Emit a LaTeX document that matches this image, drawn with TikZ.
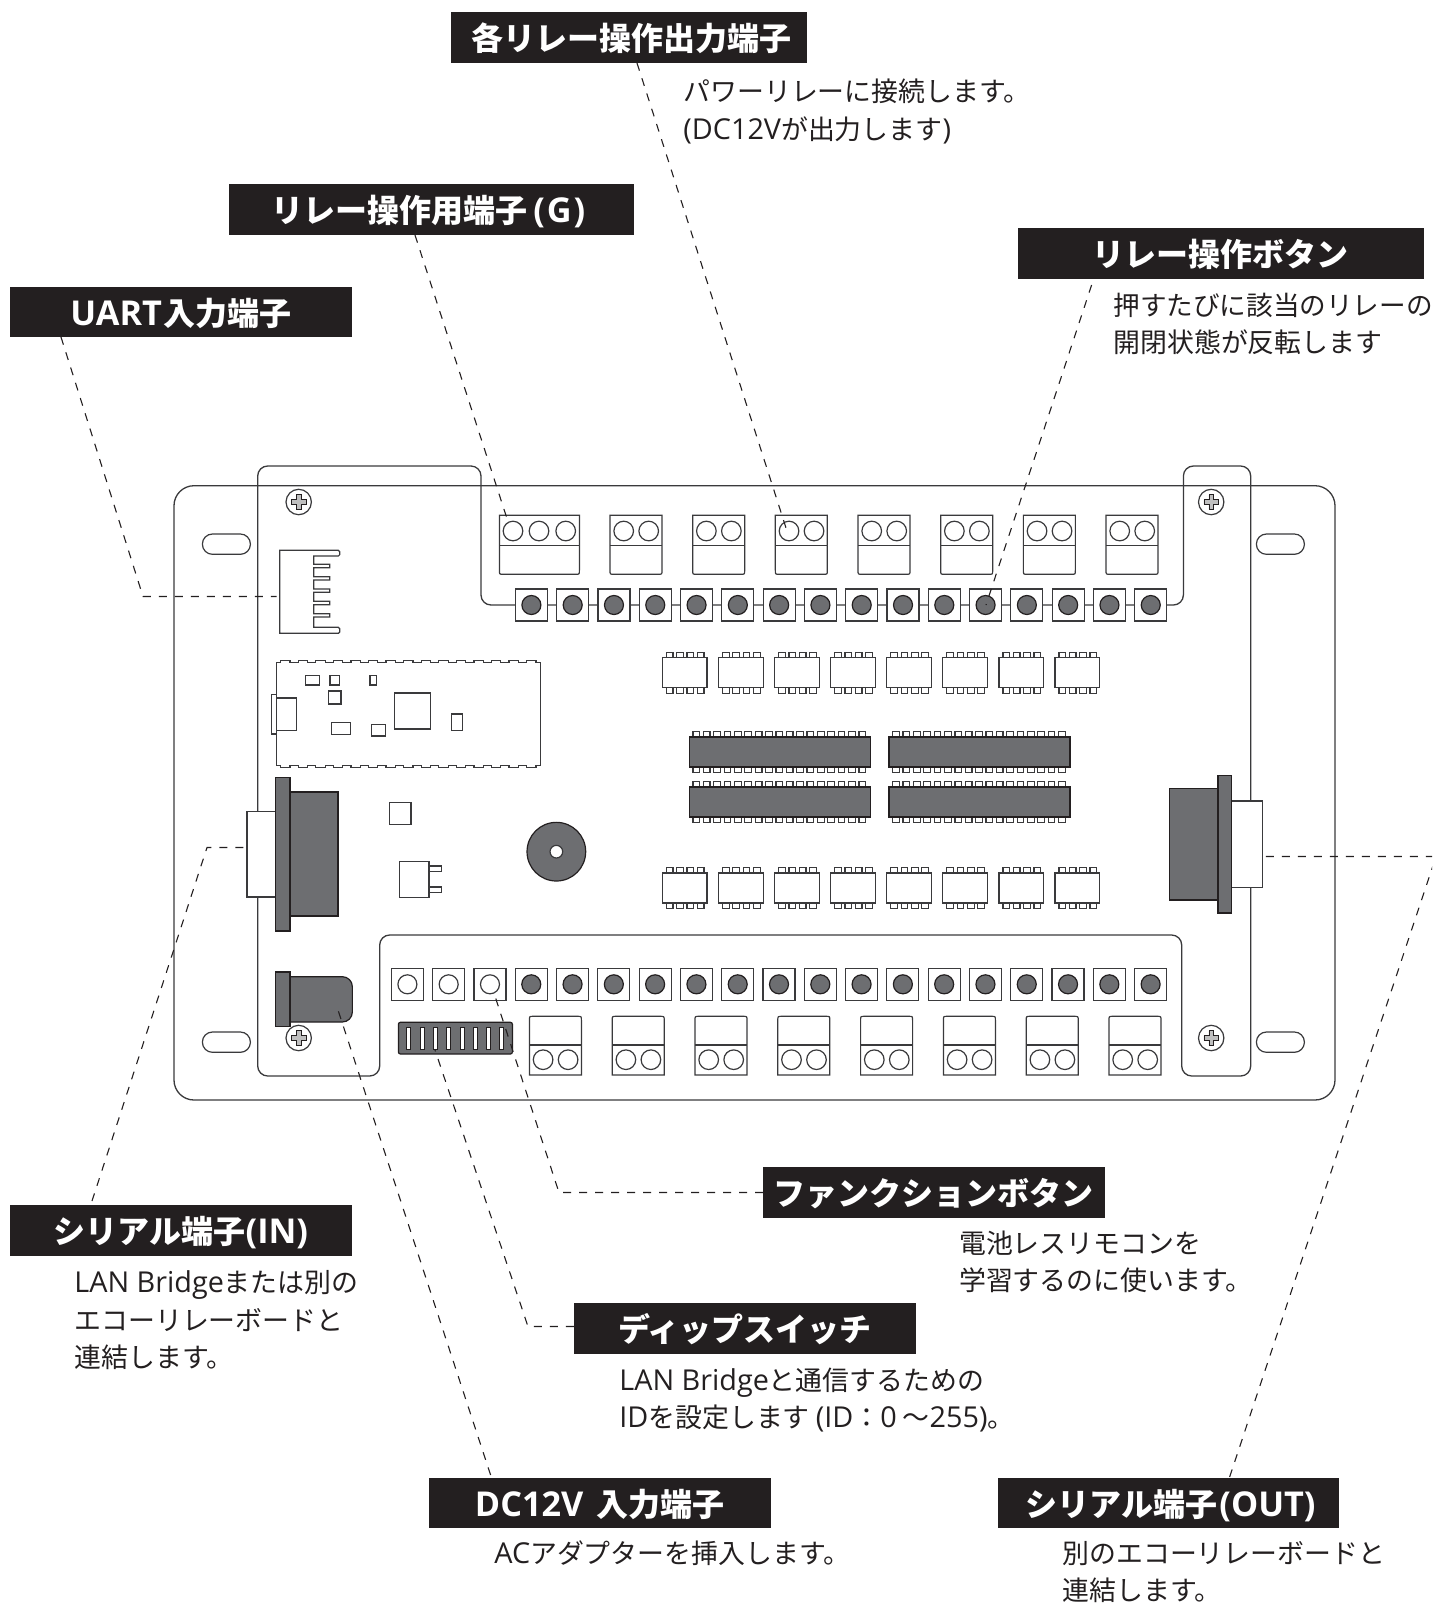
\documentclass[tikz,border=0pt]{standalone}
\usepackage{fontspec}
\setmainfont{Noto Sans CJK JP}
\newfontfamily\lat[Scale=1.07]{Open Sans}
\definecolor{ink}{HTML}{231F20}
\definecolor{wire}{HTML}{3A3A3C}
\definecolor{dk}{HTML}{6D6E71}
\tikzset{
  part/.style={draw=wire,line width=0.6pt,fill=white},
  dpart/.style={draw=ink,line width=0.6pt,fill=dk},
  outline/.style={draw=wire,line width=0.65pt},
  leader/.style={draw=ink,line width=0.55pt,dash pattern=on 4pt off 4pt},
  lab/.style={fill=ink,text=white,inner sep=0pt,font=\bfseries\fontsize{16}{16}\selectfont,text height=14.5pt,text depth=1.5pt,align=center},
  body/.style={anchor=base west,inner sep=0pt,text=ink,font=\fontsize{13.45}{13.45}\selectfont}
}
\newcommand\lab[6]{\pgfmathsetmacro\lw{(#4-#2)/2}\pgfmathsetmacro\lh{(#5-#3)/2}\node[lab,minimum width=\lw pt,minimum height=\lh pt] (#1) at ({(#2+#4)/2},{(#3+#5)/2}) {#6};}
\newcommand\screw[2]{\draw[part] (#1,#2) circle[radius=12.7];
  \draw[draw=ink,line width=0.4pt,fill=black!25] (#1-2.3,#2-7.3) -- (#1+2.3,#2-7.3) -- (#1+2.3,#2-2.3) -- (#1+7.3,#2-2.3) -- (#1+7.3,#2+2.3) -- (#1+2.3,#2+2.3) -- (#1+2.3,#2+7.3) -- (#1-2.3,#2+7.3) -- (#1-2.3,#2+2.3) -- (#1-7.3,#2+2.3) -- (#1-7.3,#2-2.3) -- (#1-2.3,#2-2.3) -- cycle;}
\begin{document}
\begin{tikzpicture}[x=0.5pt,y=-0.5pt]
\useasboundingbox (0,0) rectangle (1432,1603);
\clip (0,0) rectangle (1432,1603);
% board outline
\draw[outline,rounded corners=10pt] (700,485.7) -- (1335,485.7) -- (1335,1100) -- (174,1100) -- (174,485.7) -- cycle;
\begin{scope}[shift={(0.7,0)}]
% PCB outline
\draw[outline,rounded corners=5pt] (350,466) -- (480.3,466) -- (480.3,605) -- (1182.7,605) -- (1182.7,466) -- (1250,466) -- (1250,1076) -- (1181,1076) -- (1181,935) -- (379,935) -- (379,1076) -- (257,1076) -- (257,466) -- cycle;
% slots
\foreach \sx/\sy in {201.7/534,201.7/1032,1255.7/534,1255.7/1032}
  \draw[part,rounded corners=5pt] (\sx,\sy) rectangle ++(48,20.3);
% top terminals
\draw[part] (498.7,515.3) -- (578.7,515.3) -- (578.7,570.3) .. controls (578.7,574.3) .. (574.7,574.3) -- (502.7,574.3) .. controls (498.7,574.3) .. (498.7,570.3) -- cycle;
\draw[part] (498.7,545.3) -- (578.7,545.3);
\foreach \hx in {512.3,538.3,565} \draw[part] (\hx,531) circle[radius=9.8];
\foreach \i in {0,...,6} {
  \pgfmathsetmacro\tx{609.3+82.67*\i}
  \draw[part] (\tx,515.3) -- (\tx+52,515.3) -- (\tx+52,570.3) .. controls (\tx+52,574.3) .. (\tx+48,574.3) -- (\tx+4,574.3) .. controls (\tx,574.3) .. (\tx,570.3) -- cycle;
  \draw[part] (\tx,545.3) -- (\tx+52,545.3);
  \draw[part] (\tx+13.7,531) circle[radius=9.8];
  \draw[part] (\tx+38.7,531) circle[radius=9.8];
}
% top buttons
\foreach \i in {0,...,15} {
  \pgfmathsetmacro\bx{530.7+41.29*\i}
  \draw[part] (\bx-16,589) rectangle (\bx+16,621);
  \draw[dpart] (\bx,605) circle[radius=9.5];
}
% bottom buttons
\foreach \i in {0,...,18} {
  \pgfmathsetmacro\bx{406.7+41.29*\i}
  \draw[part] (\bx-16,968.3) rectangle (\bx+16,1000.3);
  \ifnum\i<3 \draw[part] (\bx,984.3) circle[radius=9.5];
  \else \draw[dpart] (\bx,984.3) circle[radius=9.5]; \fi
}
% bottom terminals
\foreach \i in {0,...,7} {
  \pgfmathsetmacro\tx{528.7+82.8*\i}
  \draw[part] (\tx,1075) -- (\tx+52,1075) -- (\tx+52,1020.3) .. controls (\tx+52,1016.3) .. (\tx+48,1016.3) -- (\tx+4,1016.3) .. controls (\tx,1016.3) .. (\tx,1020.3) -- cycle;
  \draw[part] (\tx,1045) -- (\tx+52,1045);
  \draw[part] (\tx+13.7,1059.7) circle[radius=9.8];
  \draw[part] (\tx+38.7,1059.7) circle[radius=9.8];
}
% DIP switch
\draw[dpart,rounded corners=1pt] (397.7,1022.3) rectangle (511.7,1054);
\foreach \i in {0,...,7} {
  \pgfmathsetmacro\dx{408+13.3*\i}
  \draw[draw=ink,line width=0.4pt,fill=white] (\dx-2,1027.7) rectangle (\dx+2,1049.3);
}
% left-upper parts (zoom 1 frame)
\begin{scope}[shift={(160,450)},scale=1/3]
  \draw[part] (357,301) -- (533,301) .. controls (537,301) .. (537,305) -- (537,314) .. controls (537,318) .. (533,318)
    -- (459,318) -- (459,343) -- (507,343) -- (507,353) -- (459,353) -- (459,380) -- (507,380) -- (507,390) -- (459,390)
    -- (459,417) -- (507,417) -- (507,427) -- (459,427) -- (459,454) -- (507,454) -- (507,464) -- (459,464)
    -- (459,491) -- (507,491) -- (507,501) -- (459,501) -- (459,532) -- (533,532) .. controls (537,532) .. (537,536) -- (537,546) .. controls (537,550) .. (533,550) -- (357,550) -- cycle;
  \draw[part] (348,637) \foreach \i in {0,...,14} { -- ({360+52.7*\i},637) -- ({360+52.7*\i},631) -- ({388+52.7*\i},631) -- ({388+52.7*\i},637) } -- (1140,637) -- (1140,946)
     \foreach \i in {14,13,...,0} { -- ({388+52.7*\i},946) -- ({388+52.7*\i},952) -- ({360+52.7*\i},952) -- ({360+52.7*\i},946) } -- (348,946) -- cycle;
  \draw[part] (435,677) rectangle (476,705);
  \draw[part] (508,677) rectangle (537,705);
  \draw[part] (628,677) rectangle (647,705);
  \draw[part] (503,723) rectangle (541,762);
  \draw[part] (702,729) rectangle (810,837);
  \draw[part] (873,792) rectangle (906,842);
  \draw[part] (513,817) rectangle (569,854);
  \draw[part] (633,824) rectangle (674,858);
  \draw[part] (348,744) rectangle (408,841);
  \draw[part] (332,733) rectangle (348,852);
\end{scope}
% left-lower parts (zoom 2 frame)
\begin{scope}[shift={(160,770)},scale=1/3]
  \draw[part] (259,124) rectangle (345,381);
  \draw[dpart] (388,66) rectangle (532,438);
  \draw[dpart] (345,22) rectangle (388,483);
  \draw[part] (686,98) rectangle (751,163);
  \draw[part] (805,288) rectangle (843,304);
  \draw[part] (805,351) rectangle (843,367);
  \draw[part] (717,274) rectangle (805,382);
  \draw[dpart] (1187,245) circle[radius=88];
  \draw[part] (1187,245) circle[radius=19];
  \draw[dpart] (388,620) -- (545,620) .. controls (561.5,620) and (575,633.5) .. (575,650) -- (575,726) .. controls (575,742.5) and (561.5,756) .. (545,756) -- (388,756) -- cycle;
  \draw[dpart] (345,606) rectangle (388,770);
\end{scope}
% screws
\screw{298}{502}\screw{1210.5}{502}\screw{298}{1038}\screw{1210.5}{1038}
% right serial connector (zoom 5 frame)
\begin{scope}[shift={(1080,760)},scale=1/3]
  \draw[part] (453,123) rectangle (546,383);
  \draw[dpart] (266,86) rectangle (412,420);
  \draw[dpart] (412,47) rectangle (453,459);
\end{scope}
% chips (zoom 3 frame)
\begin{scope}[shift={(640,640)},scale=1/3]
  \foreach \ry in {53,699} \foreach \i in {0,...,7} {
    \pgfmathsetmacro\cx{65+168.3*\i}
    \foreach \p in {0,...,3} {
      \draw[part] ({\cx+12+31*\p},\ry-16) rectangle ({\cx+32+31*\p},\ry+107);
    }
    \draw[part] (\cx,\ry) rectangle (\cx+134,\ry+90);
  }
  \foreach \cx in {146,745} \foreach \ry in {291,441} {
    \foreach \p in {0,...,16} {
      \draw[part] ({\cx+11+31.1*\p},\ry-17) rectangle ({\cx+31+31.1*\p},\ry+107);
    }
    \draw[dpart] (\cx,\ry) rectangle (\cx+543,\ry+90);
  }
\end{scope}
\end{scope}
% leader anchors
\coordinate (uA) at (61,337); \coordinate (uB) at (143,596.5); \coordinate (uC) at (276.7,596.5);
\coordinate (gA) at (415,235); \coordinate (gB) at (507.7,520.7);
\coordinate (kA) at (637,63); \coordinate (kB) at (787,531);
\coordinate (rA) at (1091.6,285); \coordinate (rB) at (986,605);
\coordinate (iA) at (92,1201); \coordinate (iB) at (207,847.5); \coordinate (iC) at (248.3,847.5);
\coordinate (dA) at (490.6,1475); \coordinate (dB) at (336.7,1006);
\coordinate (sA) at (573.8,1326.5); \coordinate (sB) at (528,1326.5); \coordinate (sC) at (435,1050);
\coordinate (fA) at (763,1192.5); \coordinate (fB) at (559,1192.5); \coordinate (fC) at (494.3,994);
\coordinate (oA) at (1229.6,1477); \coordinate (oB) at (1436,856.5); \coordinate (oC) at (1262,856.5);
\draw[leader] (uA) -- (uB) -- (uC);
\draw[leader] (gA) -- (gB);
\draw[leader] (kA) -- (kB);
\draw[leader] (rA) -- (rB);
\draw[leader] (iA) -- (iB) -- (iC);
\draw[leader] (dA) -- (dB);
\draw[leader] (sA) -- (sB) -- (sC);
\draw[leader] (fA) -- (fB) -- (fC);
\draw[leader] (oA) -- (oB) -- (oC);
% heading labels
\lab{l1}{451}{12.3}{806.5}{62.7}{\kern3pt 各リレー操作出力端子}
\lab{l2}{228.6}{184.3}{634}{234.7}{\kern-3pt リレー操作用端子\kern3pt{\lat(\kern1pt G\kern1pt)}}
\lab{l3}{10.4}{286.7}{352}{337.3}{{\lat UART}\kern1pt 入力端子}
\lab{l4}{1017.7}{228}{1423.5}{278.7}{リレー操作ボタン}
\lab{l5}{10}{1205.3}{352}{1256}{シリアル端子{\lat(IN)}}
\lab{l6}{763}{1167}{1104.6}{1217.7}{ファンクションボタン}
\lab{l7}{573.8}{1303.3}{916}{1353.7}{ディップスイッチ}
\lab{l8}{429}{1478}{770.8}{1528.3}{{\lat DC12V}\kern3pt{} 入力端子}
\lab{l9}{998}{1478}{1339.3}{1528.3}{\kern2pt シリアル端子\kern1pt{\lat(OUT)}}
% body text
\node[body] (t1a) at (683,101.8) {パワーリレーに接続します。};
\node[body] (t1b) at (683,139.3) {{\lat(DC12V}が出力します{\lat)}};
\node[body,font=\fontsize{13.3}{13.3}\selectfont] (t2a) at (1113,315) {押すたびに該当のリレーの};
\node[body] (t2b) at (1113,352) {開閉状態が反転します};
\node[body] (t3a) at (74,1292.7) {{\lat LAN Bridge}または別の};
\node[body] (t3b) at (74,1330) {エコーリレーボードと};
\node[body] (t3c) at (74,1367.3) {連結します。};
\node[body] (t4a) at (958.7,1253) {電池レスリモコンを};
\node[body] (t4b) at (958.7,1290) {学習するのに使います。};
\node[body] (t5a) at (619,1390) {{\lat LAN Bridge}と通信するための};
\node[body] (t5b) at (619,1427.3) {{\lat ID}を設定します {\lat(ID}：{\lat 0} 〜{\lat 255)}。};
\node[body] (t6) at (494,1563) {{\lat AC}アダプターを挿入します。};
\node[body] (t7a) at (1062,1563) {別のエコーリレーボードと};
\node[body] (t7b) at (1062,1600.7) {連結します。};
\end{tikzpicture}
\end{document}
